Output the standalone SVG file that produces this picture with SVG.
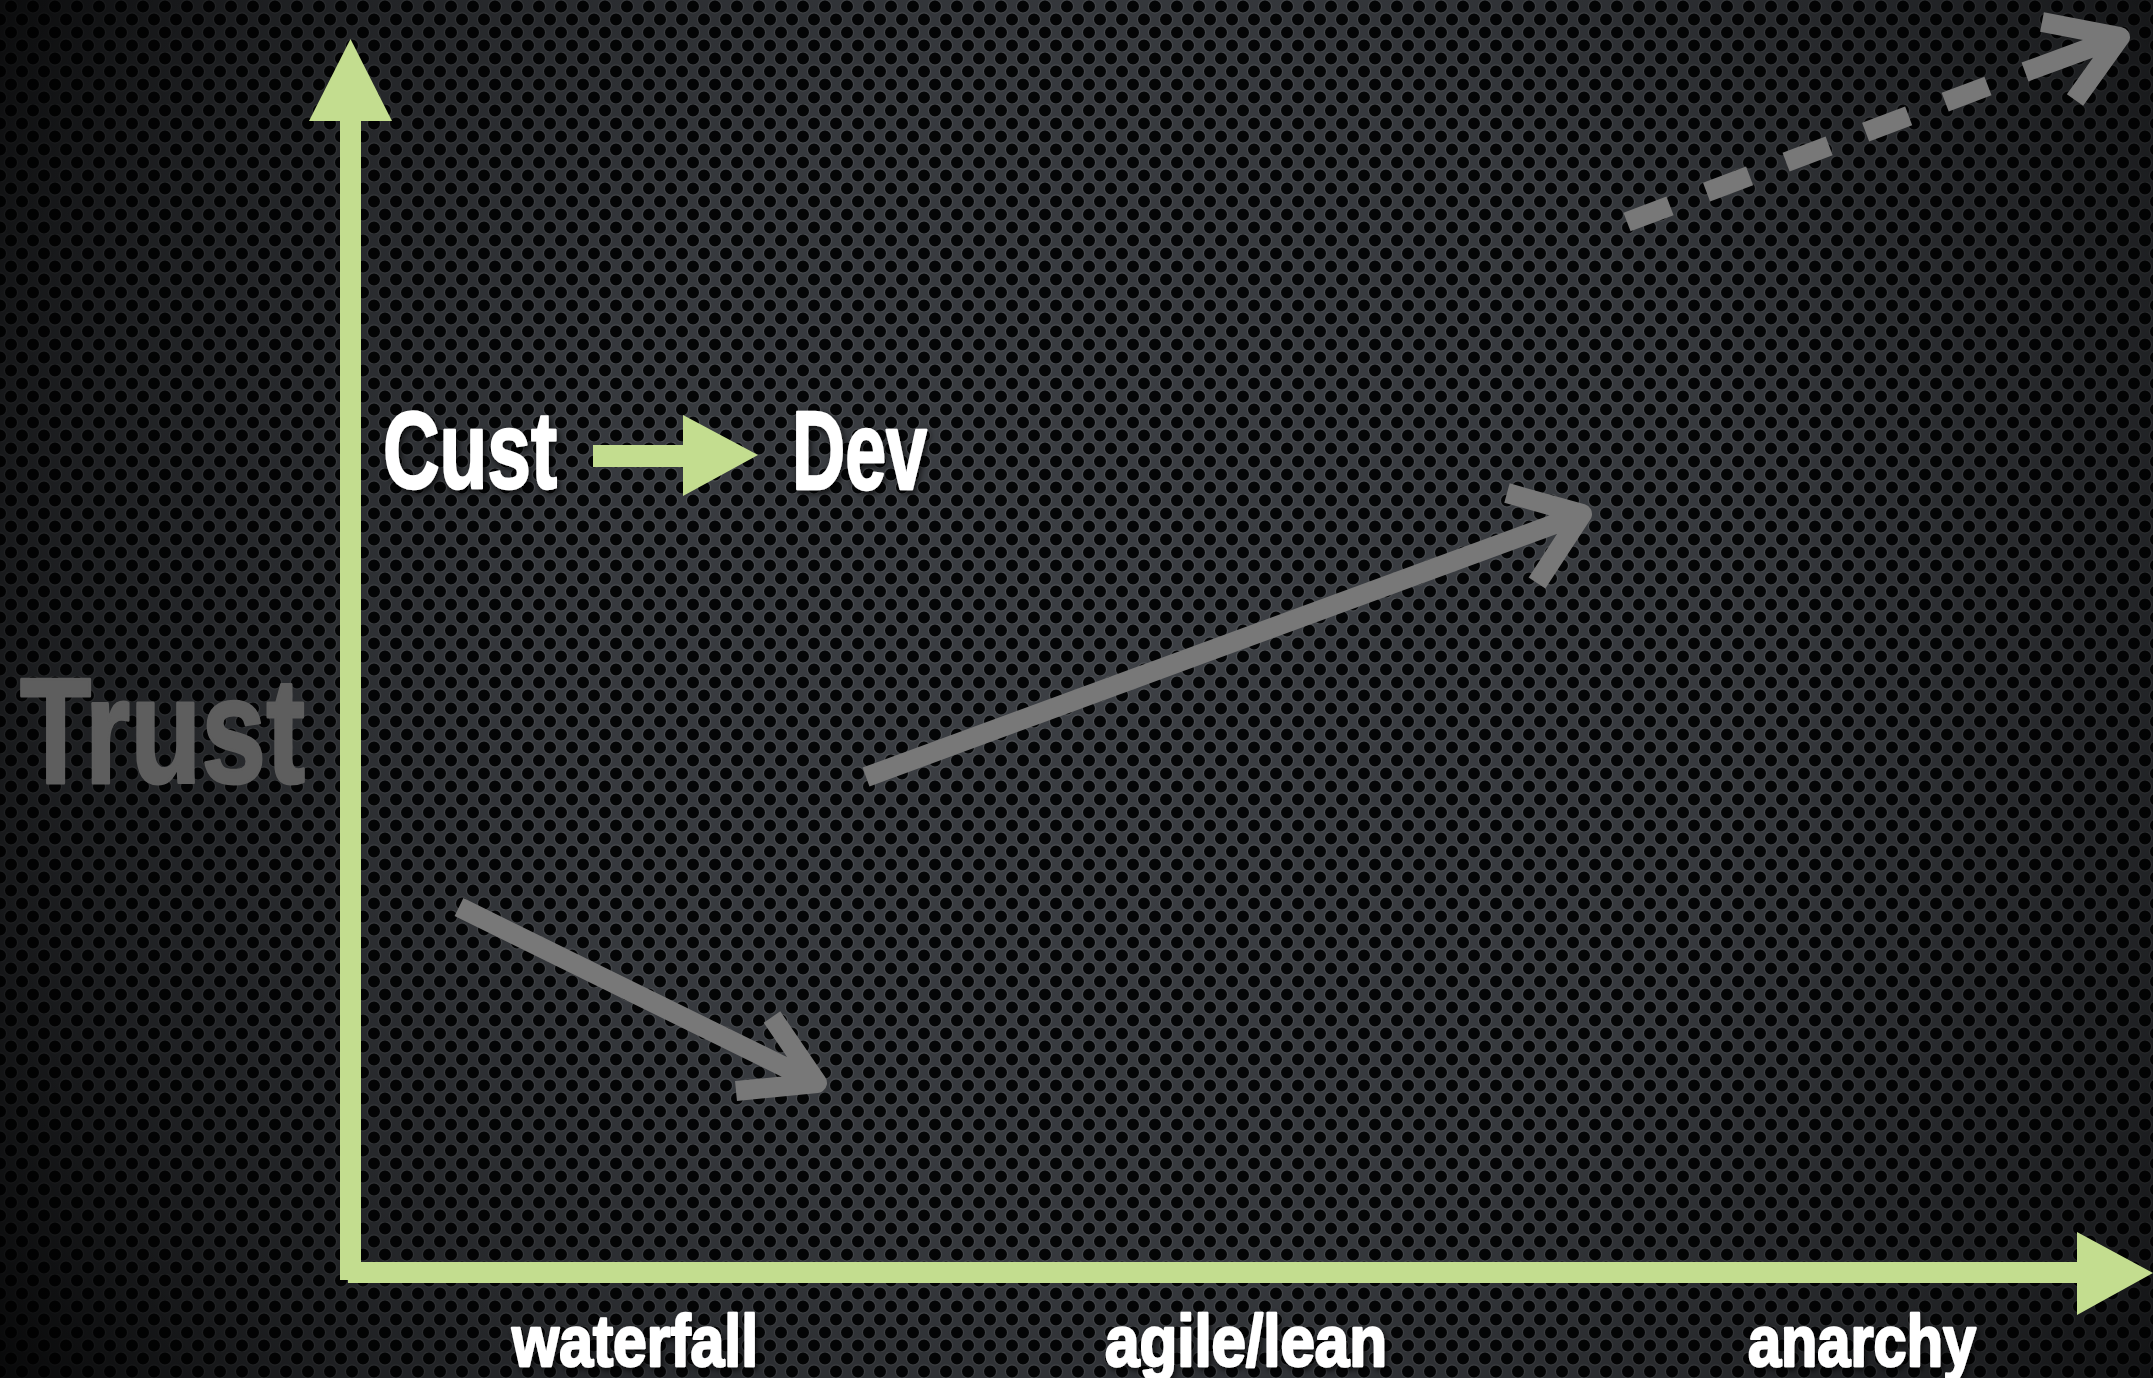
<svg xmlns="http://www.w3.org/2000/svg" width="2153" height="1378" viewBox="0 0 2153 1378">
<defs>
<pattern id="mesh" x="0" y="0" width="22" height="26" patternUnits="userSpaceOnUse">
<rect width="22" height="26" fill="#3c3f44"/>
<circle cx="11" cy="6.5" r="6.6" fill="#040506" stroke="#4d5054" stroke-width="1.2"/>
<circle cx="0" cy="19.5" r="6.6" fill="#040506" stroke="#4d5054" stroke-width="1.2"/>
<circle cx="22" cy="19.5" r="6.6" fill="#040506" stroke="#4d5054" stroke-width="1.2"/>
</pattern>
<radialGradient id="vig" cx="1150" cy="650" r="1350" gradientUnits="userSpaceOnUse">
<stop offset="0" stop-color="#000" stop-opacity="0"/>
<stop offset="0.45" stop-color="#000" stop-opacity="0.1"/>
<stop offset="0.8" stop-color="#000" stop-opacity="0.5"/>
<stop offset="1" stop-color="#000" stop-opacity="0.85"/>
</radialGradient>
<filter id="shadow" x="-10%" y="-10%" width="120%" height="130%">
<feDropShadow dx="2" dy="3" stdDeviation="3" flood-color="#000" flood-opacity="0.8"/>
</filter>
<style>
.lbl{font-family:"Liberation Sans","DejaVu Sans",sans-serif;font-weight:bold;fill:#ffffff;stroke:#ffffff;stroke-width:2.5;stroke-linejoin:round;filter:url(#shadow)}
.axis{fill:#c3dd8f}
.garrow{fill:none;stroke:#787878;stroke-width:20;stroke-linejoin:round;stroke-linecap:butt}
</style>
</defs>
<rect width="2153" height="1378" fill="url(#mesh)"/>
<rect width="2153" height="1378" fill="url(#vig)"/>

<g id="connectors">
<g id="y-axis">
<rect class="axis" x="340" y="118" width="21" height="1162"/>
<polygon class="axis" points="350.5,39 309,121 392,121"/>
</g>
<g id="x-axis">
<rect class="axis" x="348" y="1262" width="1732" height="21"/>
<polygon class="axis" points="2077,1232 2077,1315 2153,1273"/>
</g>
<g id="cust-dev-arrow">
<rect class="axis" x="593" y="445" width="92" height="22"/>
<polygon class="axis" points="683,415 683,496 758,455"/>
</g>
<g id="arrow-down">
<path class="garrow" d="M459,907 L817,1083 M772,1017 L817,1083 L736,1091"/>
</g>
<g id="arrow-up">
<path class="garrow" d="M866,777 L1582,514 M1507,493 L1582,514 L1537,583"/>
</g>
<g id="arrow-dashed">
<path class="garrow" d="M1627,222 L1988,86" stroke-dasharray="46 39"/>
<path class="garrow" d="M2025,72 L2120,37 M2042,22 L2120,37 L2075,100"/>
</g>
</g>

<g id="node-trust">
<text x="20" y="783" font-family="Liberation Sans, DejaVu Sans, sans-serif" font-weight="bold" font-size="150" fill="#5e5e5e" stroke="#5e5e5e" stroke-width="3" stroke-linejoin="round" textLength="285" lengthAdjust="spacingAndGlyphs">Trust</text>
</g>
<g id="node-cust">
<text class="lbl" x="383" y="488" font-size="110" textLength="174" lengthAdjust="spacingAndGlyphs">Cust</text>
</g>
<g id="node-dev">
<text class="lbl" x="792" y="489" font-size="112" textLength="135" lengthAdjust="spacingAndGlyphs">Dev</text>
</g>
<g id="node-waterfall">
<text class="lbl" x="512" y="1366" font-size="72" textLength="246" lengthAdjust="spacingAndGlyphs">waterfall</text>
</g>
<g id="node-agile">
<text class="lbl" x="1105" y="1366" font-size="72" textLength="282" lengthAdjust="spacingAndGlyphs">agile/lean</text>
</g>
<g id="node-anarchy">
<text class="lbl" x="1748" y="1366" font-size="72" textLength="228" lengthAdjust="spacingAndGlyphs">anarchy</text>
</g>
</svg>
